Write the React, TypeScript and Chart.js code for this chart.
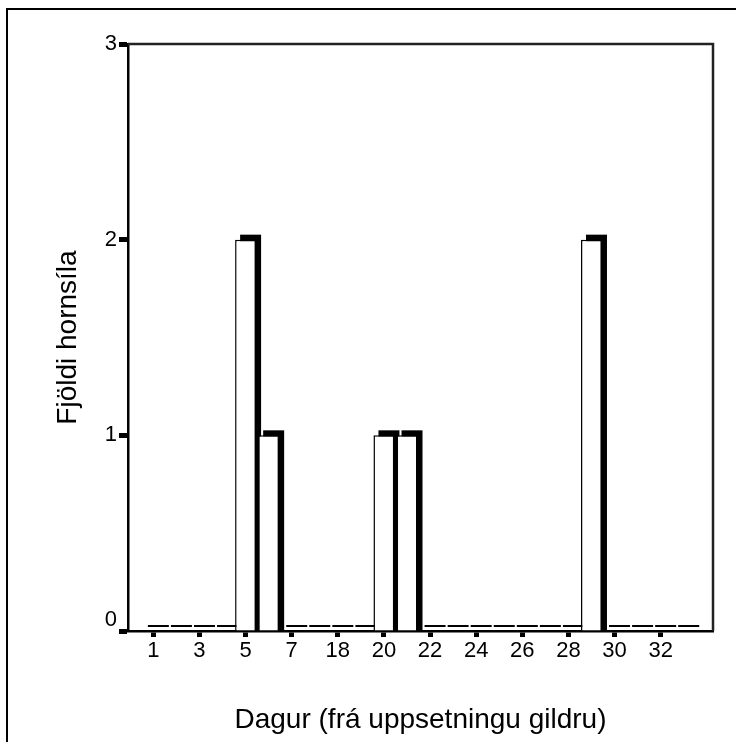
import React, { useEffect, useRef } from 'react';
import { Chart, registerables } from 'chart.js';

Chart.register(...registerables);

// ---- data ----
const days = ['1', '2', '3', '4', '5', '6', '7', '17', '18', '19', '20', '21', '22', '23', '24', '25', '26', '27', '28', '29', '30', '31', '32', '33'];
const counts = [0, 0, 0, 0, 2, 1, 0, 0, 0, 0, 1, 1, 0, 0, 0, 0, 0, 0, 0, 2, 0, 0, 0, 0];
const labelledIndexes = [0, 2, 4, 6, 8, 10, 12, 14, 16, 18, 20, 22];
const yTickValues = [0, 1, 2, 3];
const xTitle = 'Dagur (frá uppsetningu gildru)';
const yTitle = 'Fjöldi hornsíla';

const FONT = "'Liberation Sans', Arial, Helvetica, sans-serif";
const SHADOW_DX = 5;
const SHADOW_DY = 5;

const shadowPlugin = {
  id: 'barShadow',
  beforeDatasetsDraw(chart: any) {
    const ctx = chart.ctx;
    const meta = chart.getDatasetMeta(0);
    ctx.save();
    ctx.fillStyle = '#000';
    meta.data.forEach((el: any, i: number) => {
      const { x, y, base, width } = el.getProps(['x', 'y', 'base', 'width'], true);
      const left = x - width / 2 + SHADOW_DX;
      if (counts[i] > 0) {
        ctx.fillRect(left, y - SHADOW_DY, width, base - y + SHADOW_DY);
      } else {
        ctx.fillRect(left, base - SHADOW_DY - 1, width, 2);
      }
    });
    ctx.restore();
  },
};

const framePlugin = {
  id: 'frameTopRight',
  afterDraw(chart: any) {
    const { ctx, chartArea } = chart;
    ctx.save();
    ctx.strokeStyle = '#222';
    ctx.lineWidth = 2.5;
    ctx.beginPath();
    ctx.moveTo(chartArea.left, chartArea.top);
    ctx.lineTo(chartArea.right, chartArea.top);
    ctx.lineTo(chartArea.right, chartArea.bottom);
    ctx.stroke();
    ctx.restore();
  },
};

export default function App() {
  const canvasRef = useRef<HTMLCanvasElement | null>(null);

  useEffect(() => {
    if (!canvasRef.current) return;
    const chart = new Chart(canvasRef.current, {
      type: 'bar',
      data: {
        datasets: [
          {
            data: counts.map((v, i) => ({ x: i, y: v })),
            backgroundColor: '#fff',
            borderColor: '#000',
            borderWidth: 1.5,
            borderSkipped: 'start',
            barPercentage: 0.91,
            categoryPercentage: 1,
          },
        ],
      },
      options: {
        animation: false,
        responsive: false,
        devicePixelRatio: 1,
        layout: { padding: { left: 51.2, top: 44, right: 23, bottom: 5.2 } },
        plugins: {
          legend: { display: false },
          tooltip: { enabled: false },
        },
        scales: {
          x: {
            type: 'linear',
            offset: false,
            min: -1.1,
            max: 24.27,
            afterBuildTicks: (scale: any) => {
              scale.ticks = labelledIndexes.map((v) => ({ value: v }));
            },
            afterFit: (scale: any) => {
              scale.height = 105.8;
            },
            ticks: {
              autoSkip: false,
              maxRotation: 0,
              color: '#000',
              font: { family: FONT, size: 22 },
              padding: 1,
              callback: (v: any) => days[v as number],
            },
            grid: {
              offset: false,
              drawOnChartArea: false,
              drawTicks: true,
              tickLength: 6,
              tickWidth: 5,
              tickColor: '#000',
            },
            border: { display: true, color: '#000', width: 2.5 },
            title: {
              display: true,
              text: xTitle,
              color: '#000',
              font: { family: FONT, size: 28 },
              padding: 0,
            },
          },
          y: {
            type: 'linear',
            min: 0,
            max: 3,
            afterBuildTicks: (scale: any) => {
              scale.ticks = yTickValues.map((v) => ({ value: v }));
            },
            afterFit: (scale: any) => {
              scale.width = 76.8;
            },
            ticks: {
              color: '#000',
              font: { family: FONT, size: 22, lineHeight: 1 },
              padding: 2,
              callback: (v: any) => (v === 0 ? ['0', ''] : String(v)),
            },
            grid: {
              drawOnChartArea: false,
              drawTicks: true,
              tickLength: 9,
              tickWidth: 5,
              tickColor: '#000',
            },
            border: { display: true, color: '#000', width: 2.5 },
            title: {
              display: true,
              text: yTitle,
              color: '#000',
              font: { family: FONT, size: 28 },
              padding: 0,
            },
          },
        },
      },
      plugins: [shadowPlugin, framePlugin],
    } as any);
    return () => chart.destroy();
  }, []);

  return (
    <div style={{ position: 'fixed', left: 0, top: 0, width: 736, height: 742, overflow: 'hidden', background: '#fff' }}>
      <div
        style={{
          position: 'absolute',
          left: 6,
          top: 8,
          width: 800,
          height: 800,
          border: '2px solid #000',
          boxSizing: 'border-box',
        }}
      />
      <canvas
        ref={canvasRef}
        width={736}
        height={742}
        style={{ position: 'absolute', left: 0, top: 0, display: 'block' }}
      />
    </div>
  );
}
